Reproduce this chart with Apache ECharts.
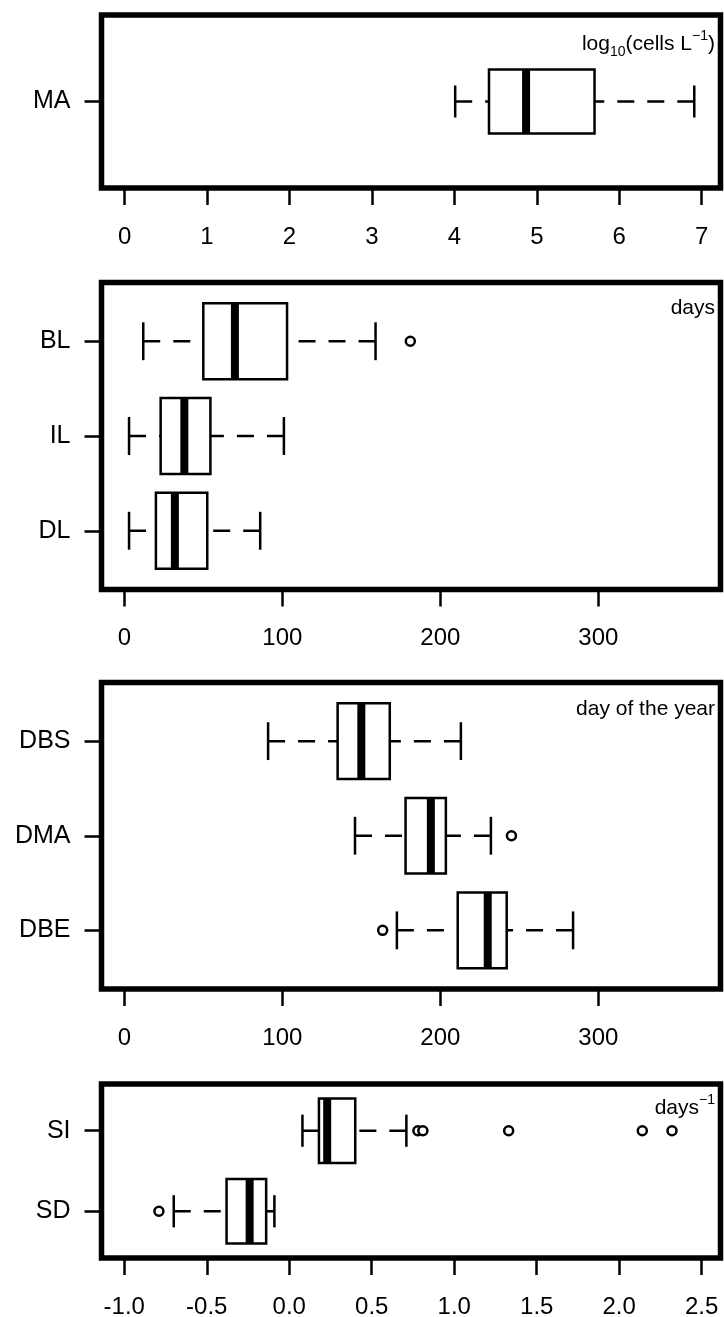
<!DOCTYPE html>
<html>
<head>
<meta charset="utf-8">
<script src="https://cdn.jsdelivr.net/npm/echarts@6/dist/echarts.min.js"></script>
<style>
html,body{margin:0;padding:0;background:#fff;}
#chart{width:724px;height:1317px;}
</style>
</head>
<body>
<div id="chart"></div>
<script>
// ---- data ----
// stats: [lower whisker, Q1, median, Q3, upper whisker]
const maCats = ['MA'];
const maStats = [[4.01, 4.42, 4.87, 5.70, 6.91]];
const maOut = [[]];
const maTicks = [0, 1, 2, 3, 4, 5, 6, 7];

const durCats = ['BL', 'IL', 'DL'];
const durStats = [
  [12, 50, 70, 103, 159],
  [3, 23, 38, 54.5, 101],
  [3, 20, 32, 52.5, 86]
];
const durOut = [[181], [], []];
const durTicks = [0, 100, 200, 300];

const doyCats = ['DBS', 'DMA', 'DBE'];
const doyStats = [
  [91, 135, 150, 168, 213],
  [146, 178, 194, 203.5, 232],
  [172.5, 211, 230, 242, 284]
];
const doyOut = [[], [245], [163.5]];
const doyTicks = [0, 100, 200, 300];

const rateCats = ['SI', 'SD'];
const rateStats = [
  [0.08, 0.18, 0.23, 0.40, 0.71],
  [-0.70, -0.38, -0.24, -0.14, -0.09]
];
const rateOut = [[0.78, 0.81, 1.33, 2.14, 2.32], [-0.79]];
const rateTicks = [-1.0, -0.5, 0.0, 0.5, 1.0, 1.5, 2.0, 2.5];

// ---- layout / style ----
const FONT = '"Liberation Sans", Arial, sans-serif';
const panels = [
  {cats: maCats, stats: maStats, out: maOut, ticks: maTicks, xmin: -0.28, xmax: 7.228, top: 15, height: 173, boxW: 0.4, fmt: v => String(v)},
  {cats: durCats, stats: durStats, out: durOut, ticks: durTicks, xmin: -14.43, xmax: 377.3, top: 282.5, height: 307, boxW: 0.8, fmt: v => String(v)},
  {cats: doyCats, stats: doyStats, out: doyOut, ticks: doyTicks, xmin: -14.43, xmax: 377.3, top: 682.5, height: 306.5, boxW: 0.8, fmt: v => String(v)},
  {cats: rateCats, stats: rateStats, out: rateOut, ticks: rateTicks, xmin: -1.138, xmax: 2.614, top: 1084, height: 174, boxW: 0.8, fmt: v => Number(v).toFixed(1)}
];

const grids = [], xAxes = [], yAxes = [], series = [];

function makeRender(boxW) {
  return function (params, api) {
    const cat = api.value(0);
    const lo = api.value(1), q1 = api.value(2), med = api.value(3), q3 = api.value(4), hi = api.value(5);
    const h = Math.abs(api.size([0, boxW])[1]);
    const half = h / 2, cap = h / 4;
    const pLo = api.coord([lo, cat]);
    const pQ1 = api.coord([q1, cat]);
    const pMed = api.coord([med, cat]);
    const pQ3 = api.coord([q3, cat]);
    const pHi = api.coord([hi, cat]);
    const y = pMed[1];
    const dash = {stroke: '#000', lineWidth: 2.5, lineDash: [17, 13], lineCap: 'butt'};
    const solid = {stroke: '#000', lineWidth: 2.5, lineCap: 'butt'};
    return {
      type: 'group',
      children: [
        {type: 'line', shape: {x1: pLo[0], y1: y, x2: pQ1[0], y2: y}, style: dash},
        {type: 'line', shape: {x1: pHi[0], y1: y, x2: pQ3[0], y2: y}, style: dash},
        {type: 'line', shape: {x1: pLo[0], y1: y - cap, x2: pLo[0], y2: y + cap}, style: solid},
        {type: 'line', shape: {x1: pHi[0], y1: y - cap, x2: pHi[0], y2: y + cap}, style: solid},
        {type: 'rect', shape: {x: pQ1[0], y: y - half, width: pQ3[0] - pQ1[0], height: h},
          style: {fill: '#fff', stroke: '#000', lineWidth: 2.5}},
        {type: 'line', shape: {x1: pMed[0], y1: y - half, x2: pMed[0], y2: y + half},
          style: {stroke: '#000', lineWidth: 8, lineCap: 'butt'}}
      ]
    };
  };
}

panels.forEach((p, i) => {
  const n = p.cats.length;
  const pad = 0.04 * n;
  grids.push({
    left: 101.5, right: 3.5, top: p.top, height: p.height,
    show: true, borderColor: '#000', borderWidth: 5.5, backgroundColor: 'transparent',
    containLabel: false, outerBoundsMode: 'none'
  });
  xAxes.push({
    type: 'value', gridIndex: i, min: p.xmin, max: p.xmax,
    axisLine: {show: false, onZero: false}, splitLine: {show: false},
    axisTick: {show: true, inside: false, customValues: p.ticks, length: 17, lineStyle: {color: '#000', width: 2.5}},
    axisLabel: {show: true, customValues: p.ticks, formatter: p.fmt, margin: 37,
      color: '#000', fontSize: 24, fontFamily: FONT}
  });
  const catVals = p.cats.map((c, k) => k + 1);
  yAxes.push({
    type: 'value', gridIndex: i, inverse: true, min: 0.5 - pad, max: n + 0.5 + pad,
    axisLine: {show: false, onZero: false}, splitLine: {show: false},
    axisTick: {show: true, inside: false, customValues: catVals, length: 17, lineStyle: {color: '#000', width: 2.5}},
    axisLabel: {show: true, customValues: catVals, formatter: v => p.cats[Math.round(v) - 1] || '',
      margin: 31, color: '#000', fontSize: 25, fontFamily: FONT}
  });
  series.push({
    type: 'custom', xAxisIndex: i, yAxisIndex: i,
    renderItem: makeRender(p.boxW),
    encode: {x: [1, 2, 3, 4, 5], y: 0},
    data: p.stats.map((s, k) => [k + 1].concat(s)),
    silent: true, animation: false, z: 2
  });
  const outData = [];
  p.out.forEach((arr, k) => arr.forEach(v => outData.push([v, k + 1])));
  series.push({
    type: 'scatter', xAxisIndex: i, yAxisIndex: i, data: outData,
    symbol: 'circle', symbolSize: 9,
    itemStyle: {color: '#fff', borderColor: '#000', borderWidth: 2.5, opacity: 1},
    silent: true, animation: false, z: 3
  });
});

const graphics = [
  {type: 'text', right: 9, top: 29, style: {
    text: '{a|log}{b|10}{a|(cells L}{c|\u22121}{a|)}', fontFamily: FONT, fill: '#000',
    rich: {
      a: {fontSize: 21, fontFamily: FONT, lineHeight: 30},
      b: {fontSize: 14, fontFamily: FONT, lineHeight: 14, verticalAlign: 'bottom'},
      c: {fontSize: 14, fontFamily: FONT, lineHeight: 14, verticalAlign: 'top'}
    }}},
  {type: 'text', right: 9, top: 298, style: {text: 'days', fontSize: 21, fontFamily: FONT, fill: '#000'}},
  {type: 'text', right: 9, top: 699, style: {text: 'day of the year', fontSize: 21, fontFamily: FONT, fill: '#000'}},
  {type: 'text', right: 9, top: 1093, style: {
    text: '{a|days}{c|\u22121}', fontFamily: FONT, fill: '#000',
    rich: {
      a: {fontSize: 21, fontFamily: FONT, lineHeight: 30},
      c: {fontSize: 14, fontFamily: FONT, lineHeight: 14, verticalAlign: 'top'}
    }}}
];

const chart = echarts.init(document.getElementById('chart'), null, {renderer: 'canvas'});
chart.setOption({
  backgroundColor: '#fff',
  animation: false,
  grid: grids,
  xAxis: xAxes,
  yAxis: yAxes,
  series: series,
  graphic: graphics
});
</script>
</body>
</html>
